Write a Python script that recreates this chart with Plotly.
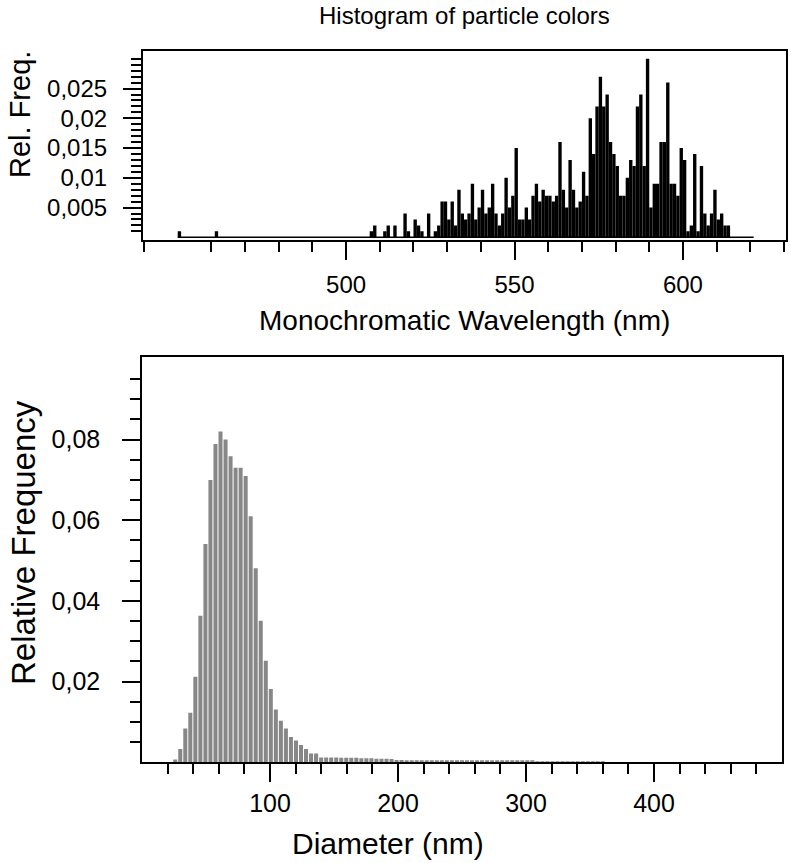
import plotly.graph_objects as go

# ---------------- data ----------------
# Top: histogram of particle colours (1 nm bins starting at 450 nm)
color_bin_start = 450.0
color_bin_width = 1.0
color_freq = [
    0.001, 0, 0, 0, 0, 0, 0, 0, 0, 0,                                   # 450-459
    0, 0.001, 0, 0, 0, 0, 0, 0, 0, 0,                                   # 460-469
    0, 0, 0, 0, 0, 0, 0, 0, 0, 0,                                       # 470-479
    0, 0, 0, 0, 0, 0, 0, 0, 0, 0,                                       # 480-489
    0, 0, 0, 0, 0, 0, 0, 0, 0, 0,                                       # 490-499
    0, 0, 0, 0, 0, 0, 0, 0.001, 0.002, 0,                               # 500-509
    0, 0.001, 0.002, 0, 0.002, 0, 0, 0.004, 0.001, 0,                   # 510-519
    0.003, 0.002, 0.001, 0, 0.004, 0, 0.001, 0.002, 0.006, 0.006,       # 520-529
    0.003, 0.006, 0.002, 0.008, 0.004, 0.003, 0.004, 0.009, 0.003, 0.005,  # 530-539
    0.008, 0.004, 0.005, 0.009, 0.004, 0.002, 0.004, 0.010, 0.005, 0.007,  # 540-549
    0.015, 0.003, 0.003, 0.005, 0.003, 0.007, 0.009, 0.006, 0.008, 0.007,  # 550-559
    0.007, 0.006, 0.007, 0.016, 0.008, 0.005, 0.013, 0.008, 0.005, 0.006,  # 560-569
    0.011, 0.007, 0.020, 0.014, 0.022, 0.027, 0.022, 0.024, 0.016, 0.014,  # 570-579
    0.012, 0.007, 0.007, 0.010, 0.013, 0.012, 0.022, 0.024, 0.012, 0.030,  # 580-589
    0.005, 0.009, 0.009, 0.016, 0.016, 0.026, 0.009, 0.009, 0.007, 0.015,  # 590-599
    0.013, 0.001, 0.002, 0.014, 0.001, 0.012, 0.004, 0.002, 0.004, 0.008,  # 600-609
    0.003, 0.004, 0.002, 0.002, 0, 0, 0, 0, 0, 0, 0,                   # 610-620
]
color_major_ticks = [500, 550, 600]
color_minor_ticks = [440, 460, 470, 480, 490, 510, 520, 530, 540,
                     560, 570, 580, 590, 610, 620, 630]
color_y_ticks = [0.005, 0.01, 0.015, 0.02, 0.025]
color_y_labels = ["0,005", "0,01", "0,015", "0,02", "0,025"]
color_y_minor = [0.001, 0.002, 0.003, 0.004, 0.006, 0.007, 0.008, 0.009,
                 0.011, 0.012, 0.013, 0.014, 0.016, 0.017, 0.018, 0.019,
                 0.021, 0.022, 0.023, 0.024, 0.026, 0.027, 0.028, 0.029, 0.030]

# Bottom: particle diameter histogram
diam_bin_start = 24.0
diam_bin_width = 3.93
diam_freq = [
    0.0007, 0.0033, 0.0084, 0.0123, 0.0212, 0.0363, 0.0541, 0.0700, 0.0789, 0.0820,
    0.0800, 0.0759, 0.0730, 0.0730, 0.0710, 0.0610, 0.0481, 0.0351, 0.0252, 0.0182,
    0.0131, 0.0103, 0.0084, 0.0063, 0.0054, 0.0043, 0.0033, 0.0022, 0.0022, 0.0012,
    0.0012, 0.0012, 0.0012, 0.0011, 0.0011, 0.0011, 0.0011, 0.0010, 0.0010, 0.0010,
    0.0009, 0.0009, 0.0009, 0.0008, 0.0006, 0.0006, 0.0005, 0.0005, 0.0005, 0.0004,
    0.0004, 0.0004, 0.0004, 0.0004, 0.0004, 0.0004, 0.0004, 0.0004, 0.0004, 0.0003,
    0.0003, 0.0003, 0.0003, 0.0003, 0.0003, 0.0003, 0.0003, 0.0003, 0.0003, 0.0003,
    0.0003, 0.0003, 0.0002, 0.0002, 0.0002, 0.0002, 0.0002, 0.0002, 0.0002, 0.0002,
    0.0002, 0.0002, 0.0002, 0.0002, 0.0002, 0.0002,
]
diam_major_ticks = [100, 200, 300, 400]
diam_minor_ticks = [20, 40, 60, 80, 120, 140, 160, 180, 220, 240, 260, 280,
                    320, 340, 360, 380, 420, 440, 460, 480]
diam_y_ticks = [0.02, 0.04, 0.06, 0.08]
diam_y_labels = ["0,02", "0,04", "0,06", "0,08"]
diam_y_minor = [0.005, 0.01, 0.015, 0.025, 0.03, 0.035, 0.045, 0.05, 0.055,
                0.065, 0.07, 0.075, 0.085, 0.09, 0.095]

# ---------------- figure ----------------
W, H = 791, 863
FONT = "Liberation Sans, Arial, Helvetica, sans-serif"


def fx(px):
    return px / W


def fy(py):
    return 1 - py / H


color_x = [color_bin_start + color_bin_width * (i + 0.5) for i in range(len(color_freq))]
diam_x = [diam_bin_start + diam_bin_width * (i + 0.5) for i in range(len(diam_freq))]

fig = go.Figure()
fig.add_trace(go.Bar(x=color_x, y=color_freq, width=color_bin_width,
                     marker=dict(color="black", line=dict(width=0)),
                     xaxis="x", yaxis="y", showlegend=False, hoverinfo="x+y"))
fig.add_trace(go.Scatter(x=[color_bin_start, color_bin_start + color_bin_width * len(color_freq)],
                         y=[0, 0], mode="lines", line=dict(color="black", width=1.5),
                         xaxis="x", yaxis="y", showlegend=False, hoverinfo="skip"))
fig.add_trace(go.Bar(x=diam_x, y=diam_freq, width=diam_bin_width * 0.8,
                     marker=dict(color="#878787", line=dict(width=0)),
                     xaxis="x2", yaxis="y2", showlegend=False, hoverinfo="x+y"))


def axis_common(size):
    return dict(showline=True, mirror=True, linecolor="black", linewidth=1.5,
                ticks="outside", tickcolor="black", tickwidth=1.5, ticklen=18,
                showgrid=False, zeroline=False,
                tickfont=dict(family=FONT, size=size, color="black"))


minor_common = dict(ticks="outside", ticklen=10, tickwidth=1.5, tickcolor="black",
                    showgrid=False, tickmode="array")

fig.update_layout(
    width=W, height=H,
    margin=dict(l=0, r=0, t=0, b=0),
    paper_bgcolor="white", plot_bgcolor="white",
    font=dict(family=FONT, color="black"),
    showlegend=False,
    xaxis=dict(domain=[fx(142.7), fx(786)], anchor="y", range=[439.6, 630.6],
               tickmode="array", tickvals=color_major_ticks,
               ticktext=[str(v) for v in color_major_ticks],
               minor=dict(tickvals=color_minor_ticks, **minor_common),
               ticklabelstandoff=4, **axis_common(24)),
    yaxis=dict(domain=[fy(240), fy(51)], anchor="x", range=[-0.00045, 0.03131],
               tickmode="array", tickvals=color_y_ticks, ticktext=color_y_labels,
               minor=dict(tickvals=color_y_minor, **minor_common),
               ticklabelstandoff=11, **axis_common(24)),
    xaxis2=dict(domain=[fx(142), fx(782)], anchor="y2", range=[0, 500],
                tickmode="array", tickvals=diam_major_ticks,
                ticktext=[str(v) for v in diam_major_ticks],
                minor=dict(tickvals=diam_minor_ticks, **minor_common),
                ticklabelstandoff=0, **axis_common(25)),
    yaxis2=dict(domain=[fy(762.3), fy(357.3)], anchor="x2", range=[0, 0.1004],
                tickmode="array", tickvals=diam_y_ticks, ticktext=diam_y_labels,
                minor=dict(tickvals=diam_y_minor, **minor_common),
                ticklabelstandoff=17, **axis_common(25)),
)

ann = [
    dict(text="Histogram of particle colors", x=fx(465), y=fy(15), size=24, angle=0),
    dict(text="Monochromatic Wavelength (nm)", x=fx(465), y=fy(320), size=28, angle=0),
    dict(text="Rel. Freq.", x=fx(20), y=fy(115), size=29, angle=-90),
    dict(text="Relative Frequency", x=fx(23), y=fy(543), size=33, angle=-90),
    dict(text="Diameter (nm)", x=fx(388), y=fy(843), size=30, angle=0),
]
for a in ann:
    fig.add_annotation(text=a["text"], x=a["x"], y=a["y"], xref="paper", yref="paper",
                       xanchor="center", yanchor="middle", showarrow=False,
                       textangle=a["angle"], font=dict(family=FONT, size=a["size"], color="black"))

# remove the default 8 px page margin so the figure fills the window exactly
fig.write_html("out.html", config={"displayModeBar": False},
               post_script="document.body.style.margin='0';")
